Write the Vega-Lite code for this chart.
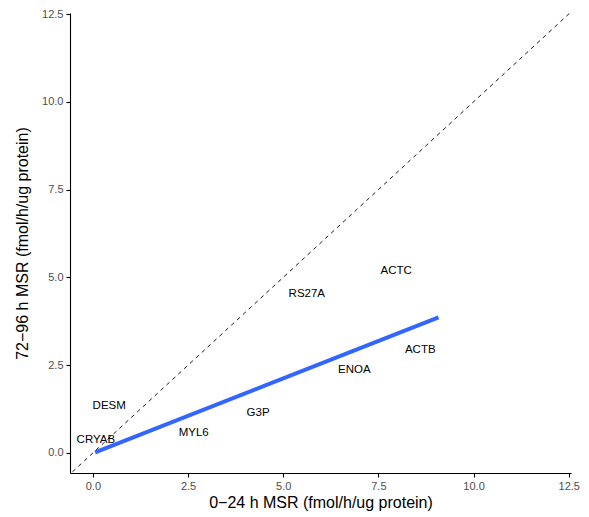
{
  "$schema": "https://vega.github.io/schema/vega-lite/v6.json",
  "autosize": "none",
  "width": 501,
  "height": 460,
  "padding": {"left": 70, "top": 13, "right": 18, "bottom": 44},
  "background": "white",
  "config": {
    "view": {"stroke": null},
    "font": "Liberation Sans",
    "axis": {
      "grid": false,
      "domainColor": "black",
      "domainWidth": 1.1,
      "tickColor": "black",
      "tickSize": 4,
      "tickWidth": 1.1,
      "labelColor": "#4D4D4D",
      "labelFontSize": 11,
      "labelFont": "Liberation Sans",
      "labelPadding": 3,
      "titleFont": "Liberation Sans",
      "titleFontSize": 16,
      "titleFontWeight": "normal",
      "titleColor": "black"
    }
  },
  "datasets": {
    "labels": [
      {"protein": "CRYAB", "x": 0.08, "y": 0.37},
      {"protein": "DESM", "x": 0.43, "y": 1.34},
      {"protein": "MYL6", "x": 2.65, "y": 0.56},
      {"protein": "G3P", "x": 4.34, "y": 1.13},
      {"protein": "ENOA", "x": 6.87, "y": 2.37},
      {"protein": "ACTB", "x": 8.6, "y": 2.94},
      {"protein": "RS27A", "x": 5.62, "y": 4.53},
      {"protein": "ACTC", "x": 7.97, "y": 5.19}
    ],
    "identity": [
      {"x": -1, "y": -1},
      {"x": 13, "y": 13}
    ],
    "fit": [
      {"x": 0.06, "y": 0.02},
      {"x": 9.08, "y": 3.86}
    ]
  },
  "layer": [
    {
      "data": {"name": "identity"},
      "mark": {"type": "line", "color": "black", "strokeWidth": 0.9, "strokeDash": [4, 4], "clip": true},
      "encoding": {
        "x": {
          "field": "x", "type": "quantitative",
          "scale": {"domain": [-0.6, 12.56], "nice": false, "zero": false},
          "axis": {"values": [0, 2.5, 5, 7.5, 10, 12.5], "format": ".1f", "title": "0−24 h MSR (fmol/h/ug protein)", "titlePadding": 3}
        },
        "y": {
          "field": "y", "type": "quantitative",
          "scale": {"domain": [-0.57, 12.53], "nice": false, "zero": false},
          "axis": {"values": [0, 2.5, 5, 7.5, 10, 12.5], "format": ".1f", "title": "72−96 h MSR (fmol/h/ug protein)", "titlePadding": 11}
        }
      }
    },
    {
      "data": {"name": "fit"},
      "mark": {"type": "line", "color": "#3366FF", "strokeWidth": 4, "strokeCap": "butt"},
      "encoding": {
        "x": {"field": "x", "type": "quantitative"},
        "y": {"field": "y", "type": "quantitative"}
      }
    },
    {
      "data": {"name": "labels"},
      "mark": {"type": "text", "fontSize": 11.5, "color": "black", "font": "Liberation Sans", "align": "center", "baseline": "middle"},
      "encoding": {
        "x": {"field": "x", "type": "quantitative"},
        "y": {"field": "y", "type": "quantitative"},
        "text": {"field": "protein"}
      }
    }
  ]
}
